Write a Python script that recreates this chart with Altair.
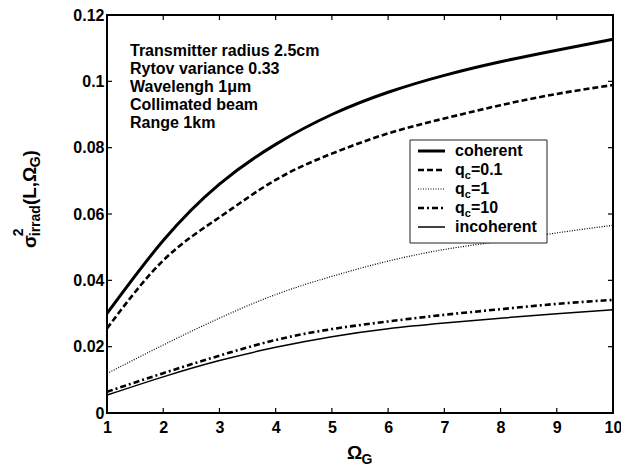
import altair as alt
import pandas as pd

# ---------------- data ----------------
omega = [1, 2, 3, 4, 5, 6, 7, 8, 9, 10]
coherent = [0.030, 0.052, 0.069, 0.081, 0.0900, 0.0967, 0.1018, 0.1059, 0.1094, 0.1127]
qc_01 = [0.0255, 0.046, 0.059, 0.0703, 0.0782, 0.0843, 0.0888, 0.0928, 0.0962, 0.0989]
qc_1 = [0.0119, 0.0205, 0.0286, 0.0357, 0.0412, 0.0458, 0.0493, 0.0518, 0.0543, 0.0566]
qc_10 = [0.0064, 0.0120, 0.0173, 0.0220, 0.0253, 0.0276, 0.0296, 0.0313, 0.0329, 0.0341]
incoherent = [0.0054, 0.0109, 0.0158, 0.0198, 0.0230, 0.0254, 0.0271, 0.0286, 0.0299, 0.0311]

x_ticks = [1, 2, 3, 4, 5, 6, 7, 8, 9, 10]
y_ticks = [0, 0.02, 0.04, 0.06, 0.08, 0.1, 0.12]

info_lines = ["Transmitter radius 2.5cm", "Rytov variance 0.33", "Wavelengh 1\u03bcm",
              "Collimated beam", "Range 1km"]

legend_main = ["coherent", "q", "q", "q", "incoherent"]
legend_sub = ["", "c", "c", "c", ""]
legend_rest = ["", "=0.1", "=1", "=10", ""]

# ---------------- styles ----------------
W, H = 506, 398
FONT = "Liberation Sans"
styles = [
    dict(strokeWidth=3),
    dict(strokeWidth=2.6, strokeDash=[6, 3]),
    dict(strokeWidth=1.2, strokeDash=[1, 1.5]),
    dict(strokeWidth=2.6, strokeDash=[6, 3, 2, 3]),
    dict(strokeWidth=1.5),
]
series = [coherent, qc_01, qc_1, qc_10, incoherent]

xs = alt.Scale(domain=[1, 10], nice=False, zero=False)
ys = alt.Scale(domain=[0, 0.12], nice=False, zero=False)
common_axis = dict(title=None, domain=False, ticks=False, grid=False, labelFont=FONT,
                   labelFontSize=16, labelFontWeight="bold", labelColor="black",
                   labelFlush=False, labelOverlap=False)
xaxis = alt.Axis(values=x_ticks, labelPadding=6, format="d", **common_axis)
yaxis = alt.Axis(values=y_ticks, labelPadding=3, format=".2~f", **common_axis)

# approx Arial-bold advance widths (em)
ADV = {"(": .333, ")": .333, "L": .611, ",": .278, "\u03a9": .768, "G": .778, "\u03c3": .62,
       "i": .278, "r": .389, "a": .556, "d": .611, "q": .611, "c": .556, "2": .556}


def tw(s, size):
    return sum(ADV.get(ch, .556) for ch in s) * size


def txt(t, x, y, size, angle=0, align="left", baseline="alphabetic"):
    return alt.Chart(pd.DataFrame({"t": [t]})).mark_text(
        font=FONT, fontWeight="bold", fontSize=size, angle=angle, align=align,
        baseline=baseline, color="black", lineBreak="\n", lineHeight=18
    ).encode(x=alt.value(x), y=alt.value(y), text="t:N")


layers = []
for vals, st in zip(series, styles):
    df = pd.DataFrame({"omega": omega, "val": vals})
    layers.append(alt.Chart(df).mark_line(color="black", interpolate="natural", **st).encode(
        x=alt.X("omega:Q", scale=xs, axis=xaxis),
        y=alt.Y("val:Q", scale=ys, axis=yaxis)))

# inward ticks on all four sides
xt = pd.DataFrame({"omega": x_ticks})
yt = pd.DataFrame({"val": y_ticks})
for y0, y1 in [(H, H - 5), (0, 5)]:
    layers.append(alt.Chart(xt).mark_rule(color="black", strokeWidth=1.2).encode(
        x=alt.X("omega:Q", scale=xs, axis=xaxis), y=alt.value(y0), y2=alt.value(y1)))
for x0, x1 in [(0, 5), (W, W - 5)]:
    layers.append(alt.Chart(yt).mark_rule(color="black", strokeWidth=1.2).encode(
        y=alt.Y("val:Q", scale=ys, axis=yaxis), x=alt.value(x0), x2=alt.value(x1)))

# annotation block
layers.append(txt("\n".join(info_lines), 23, 41, 16))

# legend
one = pd.DataFrame({"a": [0]})
layers.append(alt.Chart(one).mark_rect(fill="white", stroke="#222", strokeWidth=1).encode(
    x=alt.value(303), x2=alt.value(440), y=alt.value(125), y2=alt.value(228)))
for i in range(5):
    yy = 136 + i * 19
    layers.append(alt.Chart(one).mark_rule(color="black", **styles[i]).encode(
        x=alt.value(311), x2=alt.value(338), y=alt.value(yy)))
    layers.append(txt(legend_main[i], 348, yy + 5, 16))
    if legend_sub[i]:
        xsub = 348 + tw(legend_main[i], 16)
        layers.append(txt(legend_sub[i], xsub, yy + 9, 11))
        layers.append(txt(legend_rest[i], xsub + tw(legend_sub[i], 11), yy + 5, 16))

# y-axis title: sigma^2_irrad(L, Omega_G), rotated
MS, SS = 19, 14
yb = 233
bx = -71
layers.append(txt("\u03c3", bx, yb, MS, angle=270))
p = yb - tw("\u03c3", MS)
layers.append(txt("2", bx - 13, p, SS, angle=270))
layers.append(txt("irrad", bx + 4, p, SS, angle=270))
p -= tw("irrad", SS)
layers.append(txt("(L,\u03a9", bx, p, MS, angle=270))
p -= tw("(L,\u03a9", MS)
layers.append(txt("G", bx + 4, p, SS, angle=270))
p -= tw("G", SS)
layers.append(txt(")", bx, p, MS, angle=270))

# x-axis title: Omega_G
layers.append(txt("\u03a9", 240, 444, MS))
layers.append(txt("G", 240 + tw("\u03a9", MS), 449, SS))

chart = alt.layer(*layers).properties(
    width=W, height=H,
    autosize=alt.AutoSizeParams(type="none"),
    padding={"left": 99, "top": 7, "right": 8, "bottom": 55},
    background="white",
).configure_view(stroke="black", strokeWidth=2)

chart.save("out.html", embed_options={"renderer": "svg", "actions": False})
